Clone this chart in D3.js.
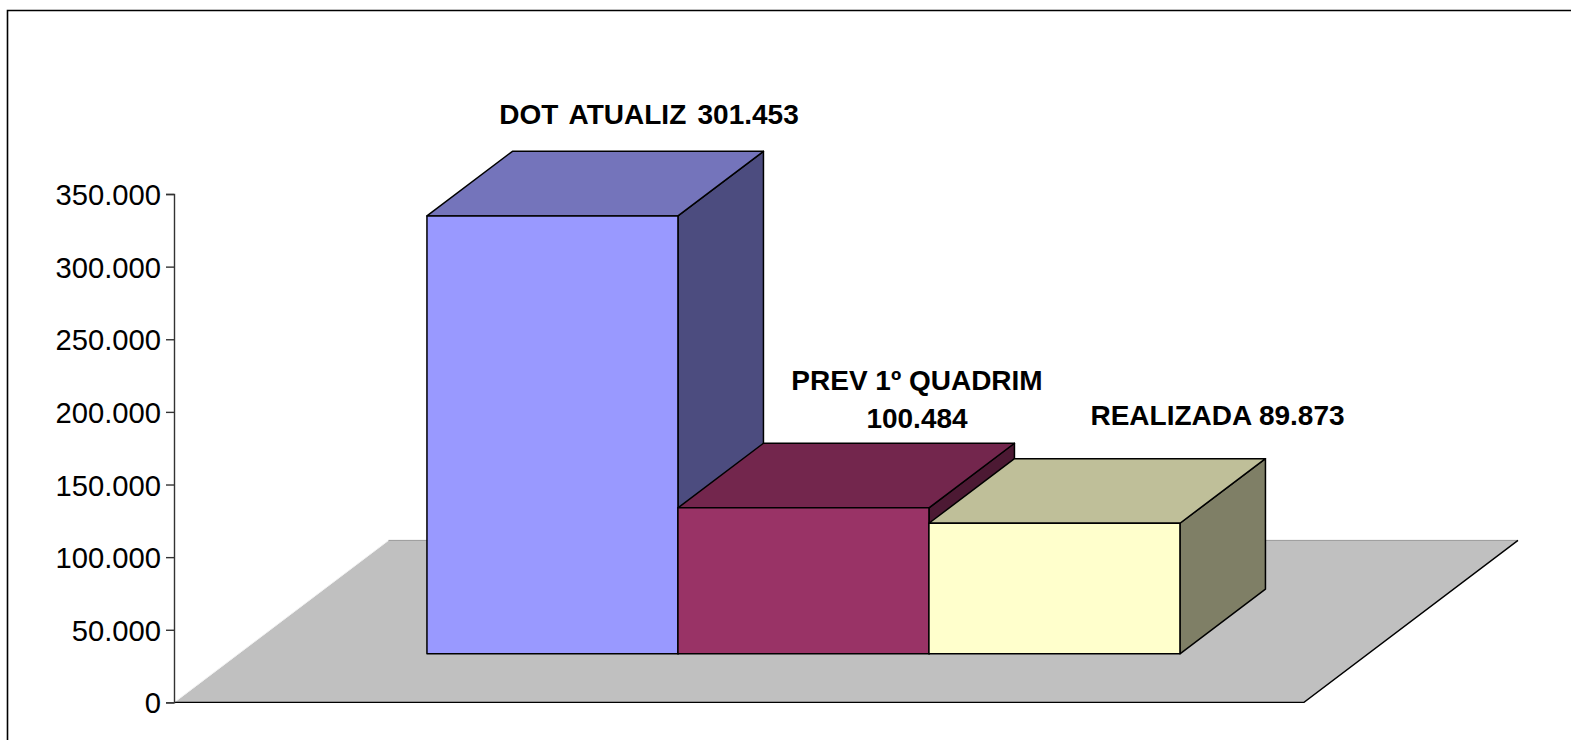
<!DOCTYPE html>
<html>
<head>
<meta charset="utf-8">
<script src="https://cdn.jsdelivr.net/npm/d3@7"></script>
<style>
  html, body { margin: 0; padding: 0; background: #fff; overflow: hidden; }
  svg { display: block; }
  text { font-family: "Liberation Sans", Arial, sans-serif; fill: #000; }
</style>
</head>
<body>
<script>
const categories = ["DOT ATUALIZ", "PREV 1º QUADRIM", "REALIZADA"];
const values = [301453, 100484, 89873];
const valueLabels = ["301.453", "100.484", "89.873"];
const yTicks = [0, 50000, 100000, 150000, 200000, 250000, 300000, 350000];
const tickLabels = ["0", "50.000", "100.000", "150.000", "200.000", "250.000", "300.000", "350.000"];
const frontColors = ["#9999ff", "#993366", "#ffffcc"];
const topColors = ["#7474bb", "#73264d", "#bfbf99"];
const sideColors = ["#4c4c7f", "#4c1933", "#7f7f66"];

const width = 1571;
const height = 740;

const svg = d3.select("body").append("svg").attr("width", width).attr("height", height);

// chart frame, right and bottom edges run off the picture
svg.append("path")
  .attr("d", "M7.5,741V10.5H1572")
  .attr("fill", "none")
  .attr("stroke", "#000")
  .attr("stroke-width", 1.6);

const floorFront = 702.4;
const xLeft = 174.5;
const xRight = 1304;

const y = d3.scaleLinear().domain([0, 350000]).range([floorFront, 194]);
const x = d3.scaleBand().domain(categories).range([xLeft, xRight]).paddingInner(0).paddingOuter(0.75);

// oblique projection: floor goes back up and to the right
const floorDx = 214;
const floorDy = 162;
const barDx = 85.5;
const barDy = 64.6;
const barDepthStart = 0.3; // share of the floor depth in front of the bars

// floor
svg.append("path")
  .attr("d", `M${xLeft},${floorFront}L${xLeft + floorDx},${floorFront - floorDy}H${xRight + floorDx}L${xRight},${floorFront}Z`)
  .attr("fill", "#c0c0c0");
svg.append("line")
  .attr("x1", xLeft + 1).attr("y1", floorFront - 1).attr("x2", xLeft + floorDx).attr("y2", floorFront - floorDy)
  .attr("stroke", "#f2f2f2").attr("stroke-width", 1);
svg.append("line")
  .attr("x1", xLeft + floorDx).attr("y1", floorFront - floorDy).attr("x2", xRight + floorDx).attr("y2", floorFront - floorDy)
  .attr("stroke", "#999").attr("stroke-width", 1);
svg.append("path")
  .attr("d", `M${xLeft},${floorFront}H${xRight}L${xRight + floorDx},${floorFront - floorDy}`)
  .attr("fill", "none").attr("stroke", "#000").attr("stroke-width", 1.4);

// axis
const yAxis = d3.axisLeft(y)
  .tickValues(yTicks)
  .tickFormat((d, i) => tickLabels[i])
  .tickSize(8)
  .tickPadding(5);
const axisG = svg.append("g").attr("transform", `translate(${xLeft - 0.5},0)`).call(yAxis);
axisG.selectAll("path, line").attr("stroke", "#333").attr("stroke-width", 1.4);
axisG.selectAll("text").attr("font-size", 29.2).attr("font-family", "Liberation Sans, Arial, sans-serif").attr("fill", "#000").attr("dy", "0.36em");

// bars
const baseDx = floorDx * barDepthStart;
const baseDy = floorDy * barDepthStart;
const bars = svg.selectAll("g.bar").data(categories).enter().append("g").attr("class", "bar");

bars.each(function (c, i) {
  const g = d3.select(this);
  const x0 = x(c) + baseDx;
  const x1 = x0 + x.bandwidth();
  const base = floorFront - baseDy;
  const top = y(values[i]) - baseDy;
  const line = d3.line();
  const face = (pts, fill) => g.append("path")
    .attr("d", line(pts) + "Z")
    .attr("fill", fill)
    .attr("stroke", "#000")
    .attr("stroke-width", 1.5)
    .attr("stroke-linejoin", "round");
  face([[x1, base], [x1 + barDx, base - barDy], [x1 + barDx, top - barDy], [x1, top]], sideColors[i]);
  face([[x0, top], [x1, top], [x1 + barDx, top - barDy], [x0 + barDx, top - barDy]], topColors[i]);
  face([[x0, base], [x1, base], [x1, top], [x0, top]], frontColors[i]);
});

// data labels, placed by hand like the chart's own
const labelPos = [[649, 124], [917, 390], [1217.5, 425]];
const labelGaps = [3.5, 0, 0];
const labelLines = [
  [categories[0] + " " + valueLabels[0]],
  [categories[1], valueLabels[1]],
  [categories[2] + " " + valueLabels[2]]
];
labelLines.forEach((lines, i) => {
  lines.forEach((t, j) => {
    svg.append("text")
      .attr("x", labelPos[i][0])
      .attr("y", labelPos[i][1] + j * 38)
      .attr("text-anchor", "middle")
      .attr("font-size", 28)
      .attr("font-weight", "bold")
      .attr("word-spacing", labelGaps[i])
      .text(t);
  });
});
</script>
</body>
</html>
